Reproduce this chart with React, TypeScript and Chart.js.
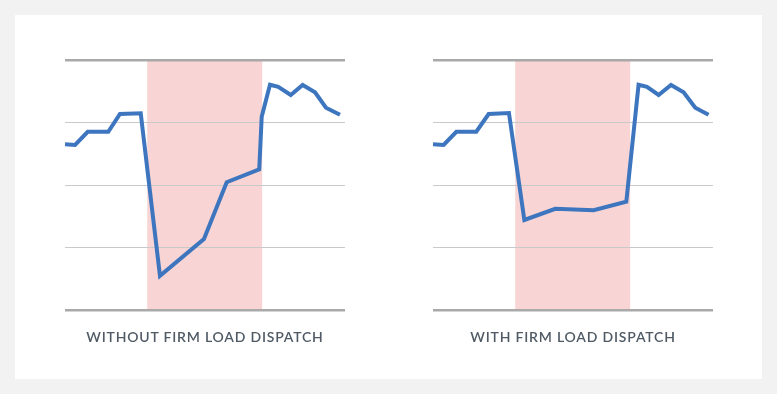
import React, { useEffect, useRef } from "react";
import { Chart, registerables } from "chart.js";

Chart.register(...registerables);

// Hours of the day (x) and normalized load (y, 0-100)
const withoutHours = [0, 0.86, 1.95, 3.71, 4.71, 6.49, 8.14, 11.91, 13.86, 16.65, 16.86, 17.57, 18.28, 19.35, 20.37, 21.43, 22.37, 23.57];
const withoutLoad = [66.3, 66, 71.3, 71.3, 78.4, 78.7, 13.7, 28.4, 51.1, 56.3, 77.3, 90.1, 89.3, 86, 90, 87.1, 80.9, 78.1];

const withHours = [0, 0.91, 2.0, 3.71, 4.77, 6.51, 7.83, 10.48, 13.77, 16.57, 17.62, 18.34, 19.34, 20.4, 21.48, 22.48, 23.62];
const withLoad = [66.3, 66, 71.3, 71.3, 78.4, 78.8, 36, 40.5, 39.9, 43.3, 90.1, 89.3, 86, 90, 87.1, 80.9, 78.1];

const shadeRange = [7.05, 16.9];
const titles = ["WITHOUT FIRM LOAD DISPATCH", "WITH FIRM LOAD DISPATCH"];

const LINE_COLOR = "#3d76bf";
const SHADE_COLOR = "#f8d4d4";

const shadePlugin = {
  id: "shade",
  beforeDraw(chart: any) {
    const { ctx, chartArea, scales } = chart;
    const x0 = scales.x.getPixelForValue(shadeRange[0]);
    const x1 = scales.x.getPixelForValue(shadeRange[1]);
    ctx.save();
    ctx.fillStyle = SHADE_COLOR;
    ctx.fillRect(x0, chartArea.top, x1 - x0, chartArea.bottom - chartArea.top);
    ctx.restore();
  },
};

function LineChart({ xs, ys }: { xs: number[]; ys: number[] }) {
  const ref = useRef<HTMLCanvasElement | null>(null);
  useEffect(() => {
    if (!ref.current) return;
    const chart = new Chart(ref.current, {
      type: "line",
      data: {
        datasets: [
          {
            data: xs.map((x, i) => ({ x, y: ys[i] })),
            borderColor: LINE_COLOR,
            borderWidth: 4,
            pointRadius: 0,
            tension: 0,
            fill: false,
          },
        ],
      },
      options: {
        animation: false,
        responsive: true,
        maintainAspectRatio: false,
        layout: { padding: { left: 50, right: 10, top: 45, bottom: 69 } },
        plugins: { legend: { display: false }, tooltip: { enabled: false } },
        events: [],
        scales: {
          x: { type: "linear", min: 0, max: 24, display: false },
          y: {
            min: 0,
            max: 100,
            ticks: { display: false, stepSize: 25 },
            border: { display: false },
            grid: {
              drawTicks: false,
              color: (c: any) => (c.tick && (c.tick.value === 0 || c.tick.value === 100) ? "#a9a9a9" : "#c9c9c9"),
              lineWidth: (c: any) => (c.tick && (c.tick.value === 0 || c.tick.value === 100) ? 2.5 : 1),
            },
          },
        },
      },
      plugins: [shadePlugin],
    } as any);
    return () => chart.destroy();
  }, [xs, ys]);
  return <canvas ref={ref} />;
}

function Panel({ left, xs, ys, title }: { left: number; xs: number[]; ys: number[]; title: string }) {
  return (
    <div style={{ position: "absolute", left, top: 0, width: 340, height: 364 }}>
      <div style={{ position: "absolute", left: 0, top: 0, width: 340, height: 364 }}>
        <LineChart xs={xs} ys={ys} />
      </div>
      <div
        style={{
          position: "absolute",
          left: 30,
          width: 320,
          top: 313,
          textAlign: "center",
          fontFamily: "Lato, 'Open Sans', sans-serif",
          fontSize: 14,
          fontWeight: 600,
          letterSpacing: "0.8px",
          lineHeight: "17px",
          color: "#4f5a65",
          whiteSpace: "nowrap",
        }}
      >
        {title}
      </div>
    </div>
  );
}

export default function App() {
  return (
    <div style={{ position: "fixed", left: 0, top: 0, width: 777, height: 394, background: "#f2f2f2" }}>
      <div style={{ position: "absolute", left: 15, top: 15, width: 747, height: 364, background: "#ffffff" }}>
        <Panel left={0} xs={withoutHours} ys={withoutLoad} title={titles[0]} />
        <Panel left={368} xs={withHours} ys={withLoad} title={titles[1]} />
      </div>
    </div>
  );
}
